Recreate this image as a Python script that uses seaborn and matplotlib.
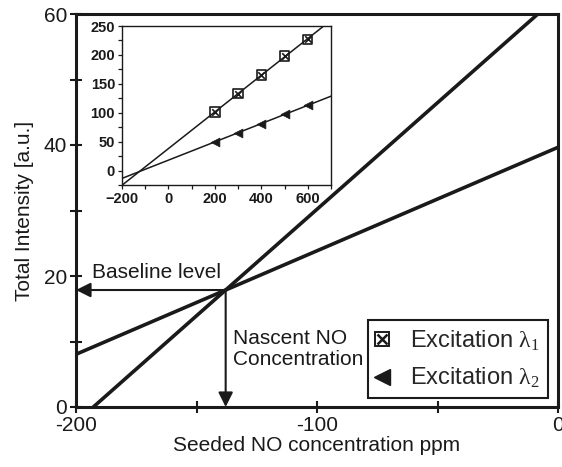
import numpy as np
import pandas as pd
import matplotlib
matplotlib.use("Agg")
import matplotlib.pyplot as plt
import seaborn as sns
from matplotlib.lines import Line2D
from matplotlib.legend_handler import HandlerTuple
from matplotlib.ticker import MultipleLocator

# ---------------- data ----------------
# main panel: two extrapolated calibration lines crossing at the baseline
main_x_range = [-200, 0]
baseline_level = 17.86          # a.u.
nascent_conc = -137.9           # ppm
slope_lambda1 = 0.3253          # a.u. / ppm
slope_lambda2 = 0.158           # a.u. / ppm

# inset: measured calibration points
seeded_ppm = [200, 300, 400, 500, 600]
intensity_lambda1 = [101, 133, 165, 198, 227]
intensity_lambda2 = [50, 65, 81, 97, 113]

main_xticks = [-200, -100, 0]
main_yticks = [0, 20, 40, 60]
inset_xticks = [-200, 0, 200, 400, 600]
inset_yticks = [0, 50, 100, 150, 200, 250]

# ---------------- style ----------------
sns.set_style("ticks")
plt.rcParams["font.family"] = ["Liberation Sans", "DejaVu Sans"]
plt.rcParams["mathtext.fontset"] = "custom"
plt.rcParams["mathtext.rm"] = "Liberation Serif"
plt.rcParams["mathtext.it"] = "Liberation Serif"

INK = "#1a1a1a"
fig = plt.figure(figsize=(5.62, 4.67), dpi=100)
ax = fig.add_axes([76 / 562, 1 - 407 / 467, (558 - 76) / 562, (407 - 14) / 467])

xs = np.array(main_x_range, dtype=float)
df_main = pd.DataFrame({
    "x": np.concatenate([xs, xs]),
    "y": np.concatenate([baseline_level + slope_lambda1 * (xs - nascent_conc),
                         baseline_level + slope_lambda2 * (xs - nascent_conc)]),
    "series": ["l1"] * 2 + ["l2"] * 2,
})
sns.lineplot(data=df_main, x="x", y="y", units="series", estimator=None,
             color=INK, lw=2.6, ax=ax, legend=False)

ax.set_xlim(-200, 0)
ax.set_ylim(0, 60)
ax.set_xticks(main_xticks)
ax.set_yticks(main_yticks)
ax.set_xticklabels([str(t) for t in main_xticks])
ax.xaxis.set_minor_locator(MultipleLocator(50))
ax.yaxis.set_minor_locator(MultipleLocator(10))
ax.tick_params(which="both", direction="inout", width=1.5, colors=INK,
               labelsize=15, labelcolor=INK, pad=2)
ax.tick_params(which="major", length=9)
ax.tick_params(which="minor", length=8)
for s in ax.spines.values():
    s.set_visible(True)
    s.set_linewidth(2.2)
    s.set_color(INK)
ax.set_xlabel("Seeded NO concentration ppm", fontsize=15, color=INK, labelpad=1)
ax.set_ylabel("Total Intensity [a.u.]", fontsize=15, color=INK, labelpad=7)

# arrows
arrow_kw = dict(arrowstyle="-|>", lw=1.5, color=INK,
                mutation_scale=22, shrinkA=0, shrinkB=0)
ax.annotate("", xy=(-200, baseline_level), xytext=(nascent_conc, baseline_level),
            arrowprops=arrow_kw)
ax.annotate("", xy=(nascent_conc, 0), xytext=(nascent_conc, baseline_level),
            arrowprops=arrow_kw)
ax.text(-193.3, 19.1, "Baseline level", fontsize=15, color=INK,
        ha="left", va="bottom")
ax.text(-135, 8.85, "Nascent NO\nConcentration", fontsize=15, color=INK,
        ha="left", va="center", linespacing=1.15)

# legend
h1 = (Line2D([], [], marker="s", ms=10, mfc="none", mec=INK, mew=1.4, ls="none"),
      Line2D([], [], marker="x", ms=7.5, mec=INK, mew=1.8, ls="none"))
h2 = Line2D([], [], marker="<", ms=11, mfc=INK, mec=INK, ls="none")
leg = ax.legend([h1, h2], [r"Excitation $\mathrm{\lambda}_1$", r"Excitation $\mathrm{\lambda}_2$"],
                handler_map={tuple: HandlerTuple(ndivide=1, pad=0)},
                loc="lower right", bbox_to_anchor=(0.979, 0.022),
                fontsize=17, frameon=True, fancybox=False, framealpha=1,
                edgecolor=INK, handlelength=0.45, handletextpad=0.95,
                borderpad=0.35, labelspacing=0.55, borderaxespad=0)
leg.get_frame().set_linewidth(1.5)

# ---------------- inset ----------------
axi = fig.add_axes([122 / 562, 1 - 185 / 467, (331 - 122) / 562, (185 - 26) / 467])
axi.set_xlim(-200, 700)
axi.set_ylim(-25, 250)
df_in = pd.DataFrame({"x": seeded_ppm + seeded_ppm,
                      "y": intensity_lambda1 + intensity_lambda2,
                      "series": ["l1"] * 5 + ["l2"] * 5})
for key in ["l1", "l2"]:
    sub = df_in[df_in.series == key]
    sns.regplot(data=sub, x="x", y="y", scatter=False, ci=None, truncate=False,
                line_kws=dict(color=INK, lw=1.1), ax=axi)
sub1 = df_in[df_in.series == "l1"]
sub2 = df_in[df_in.series == "l2"]
sns.scatterplot(data=sub1, x="x", y="y", marker="s", s=45, facecolor="none",
                edgecolor=INK, linewidth=1.2, ax=axi, zorder=3)
sns.scatterplot(data=sub1, x="x", y="y", marker="x", s=22, color=INK,
                linewidth=1.2, ax=axi, zorder=4)
sns.scatterplot(data=sub2, x="x", y="y", marker="<", s=40, color=INK,
                edgecolor=INK, ax=axi, zorder=3)
axi.set_xlim(-200, 700)
axi.set_ylim(-25, 250)
axi.set_xticks(inset_xticks)
axi.set_yticks(inset_yticks)
axi.xaxis.set_minor_locator(MultipleLocator(100))
axi.yaxis.set_minor_locator(MultipleLocator(25))
axi.tick_params(which="both", direction="out", width=0.9, colors=INK,
                labelsize=10.5, pad=2)
axi.tick_params(which="major", length=3)
axi.tick_params(which="minor", length=3)
for lab in axi.get_xticklabels() + axi.get_yticklabels():
    lab.set_fontweight("bold")
axi.set_xlabel("")
axi.set_ylabel("")
for s in axi.spines.values():
    s.set_visible(True)
    s.set_linewidth(1.0)
    s.set_color(INK)

fig.savefig("out.png", dpi=100)
